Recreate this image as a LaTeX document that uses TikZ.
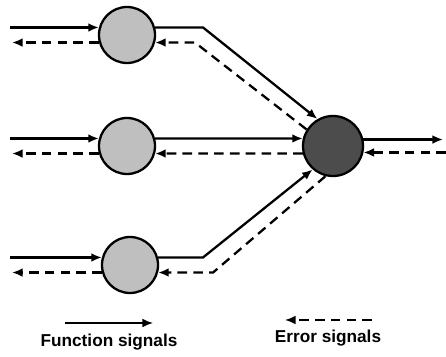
\documentclass[tikz,border=0pt]{standalone}
\usepackage{fontspec}
\setmainfont{Liberation Sans}
\usetikzlibrary{arrows.meta}

\begin{document}
\begin{tikzpicture}[x=0.02cm,y=-0.02cm,>={Latex[length=6pt,width=5pt]},
  neuron/.style={circle,draw,line width=1.3pt,fill=black!25,inner sep=0pt,minimum size=1.12cm},
  outneuron/.style={neuron,fill=black!70,minimum size=1.2cm},
  fsig/.style={->,line width=1.3pt},
  esig/.style={->,line width=1.3pt,dash pattern=on 5.5pt off 3.5pt},
  lbl/.style={font=\fontsize{9.8}{12}\selectfont\bfseries}]
\useasboundingbox (0,0) rectangle (446,357);
\node[neuron] (n1) at (127,35) {};
\node[neuron] (n2) at (127,146) {};
\node[neuron] (n3) at (130,265) {};
\node[outneuron] (out) at (333,146) {};
\coordinate (inL) at (10,0);
\coordinate (outL) at (12,0);
\coordinate (b1) at (203,0);
\coordinate (b2) at (195,0);
\coordinate (b3) at (213,0);
\coordinate (outR) at (443,0);
\coordinate (inR) at (446,0);
\draw[fsig] (inL |- n1.165) -- (n1.165);
\draw[esig] (n1.195) -- (outL |- n1.195);
\draw[fsig] (n1.15) -- (b1 |- n1.15) -- (out.120);
\draw[esig] (out.148) -- (b2 |- n1.345) -- (n1.345);
\draw[fsig] (inL |- n2.165) -- (n2.165);
\draw[esig] (n2.195) -- (outL |- n2.195);
\draw[fsig] (n2.15) -- (out.166);
\draw[esig] (out.194) -- (n2.345);
\draw[fsig] (inL |- n3.165) -- (n3.165);
\draw[esig] (n3.195) -- (outL |- n3.195);
\draw[fsig] (n3.15) -- (b1 |- n3.15) -- (out.229);
\draw[esig] (out.256) -- (b3 |- n3.345) -- (n3.345);
\draw[fsig] (out.12) -- (outR |- out.12);
\draw[esig] (inR |- out.348) -- (out.348);
\coordinate (f0) at (65,323);
\coordinate (f1) at (153,323);
\draw[fsig,line width=1pt] (f0) -- (f1);
\node[lbl] (ftext) at (109,342) {Function signals};
\coordinate (e0) at (372,320);
\coordinate (e1) at (285,320);
\draw[esig,line width=1pt] (e0) -- (e1);
\node[lbl] (etext) at (328,338) {Error signals};
\end{tikzpicture}
\end{document}
